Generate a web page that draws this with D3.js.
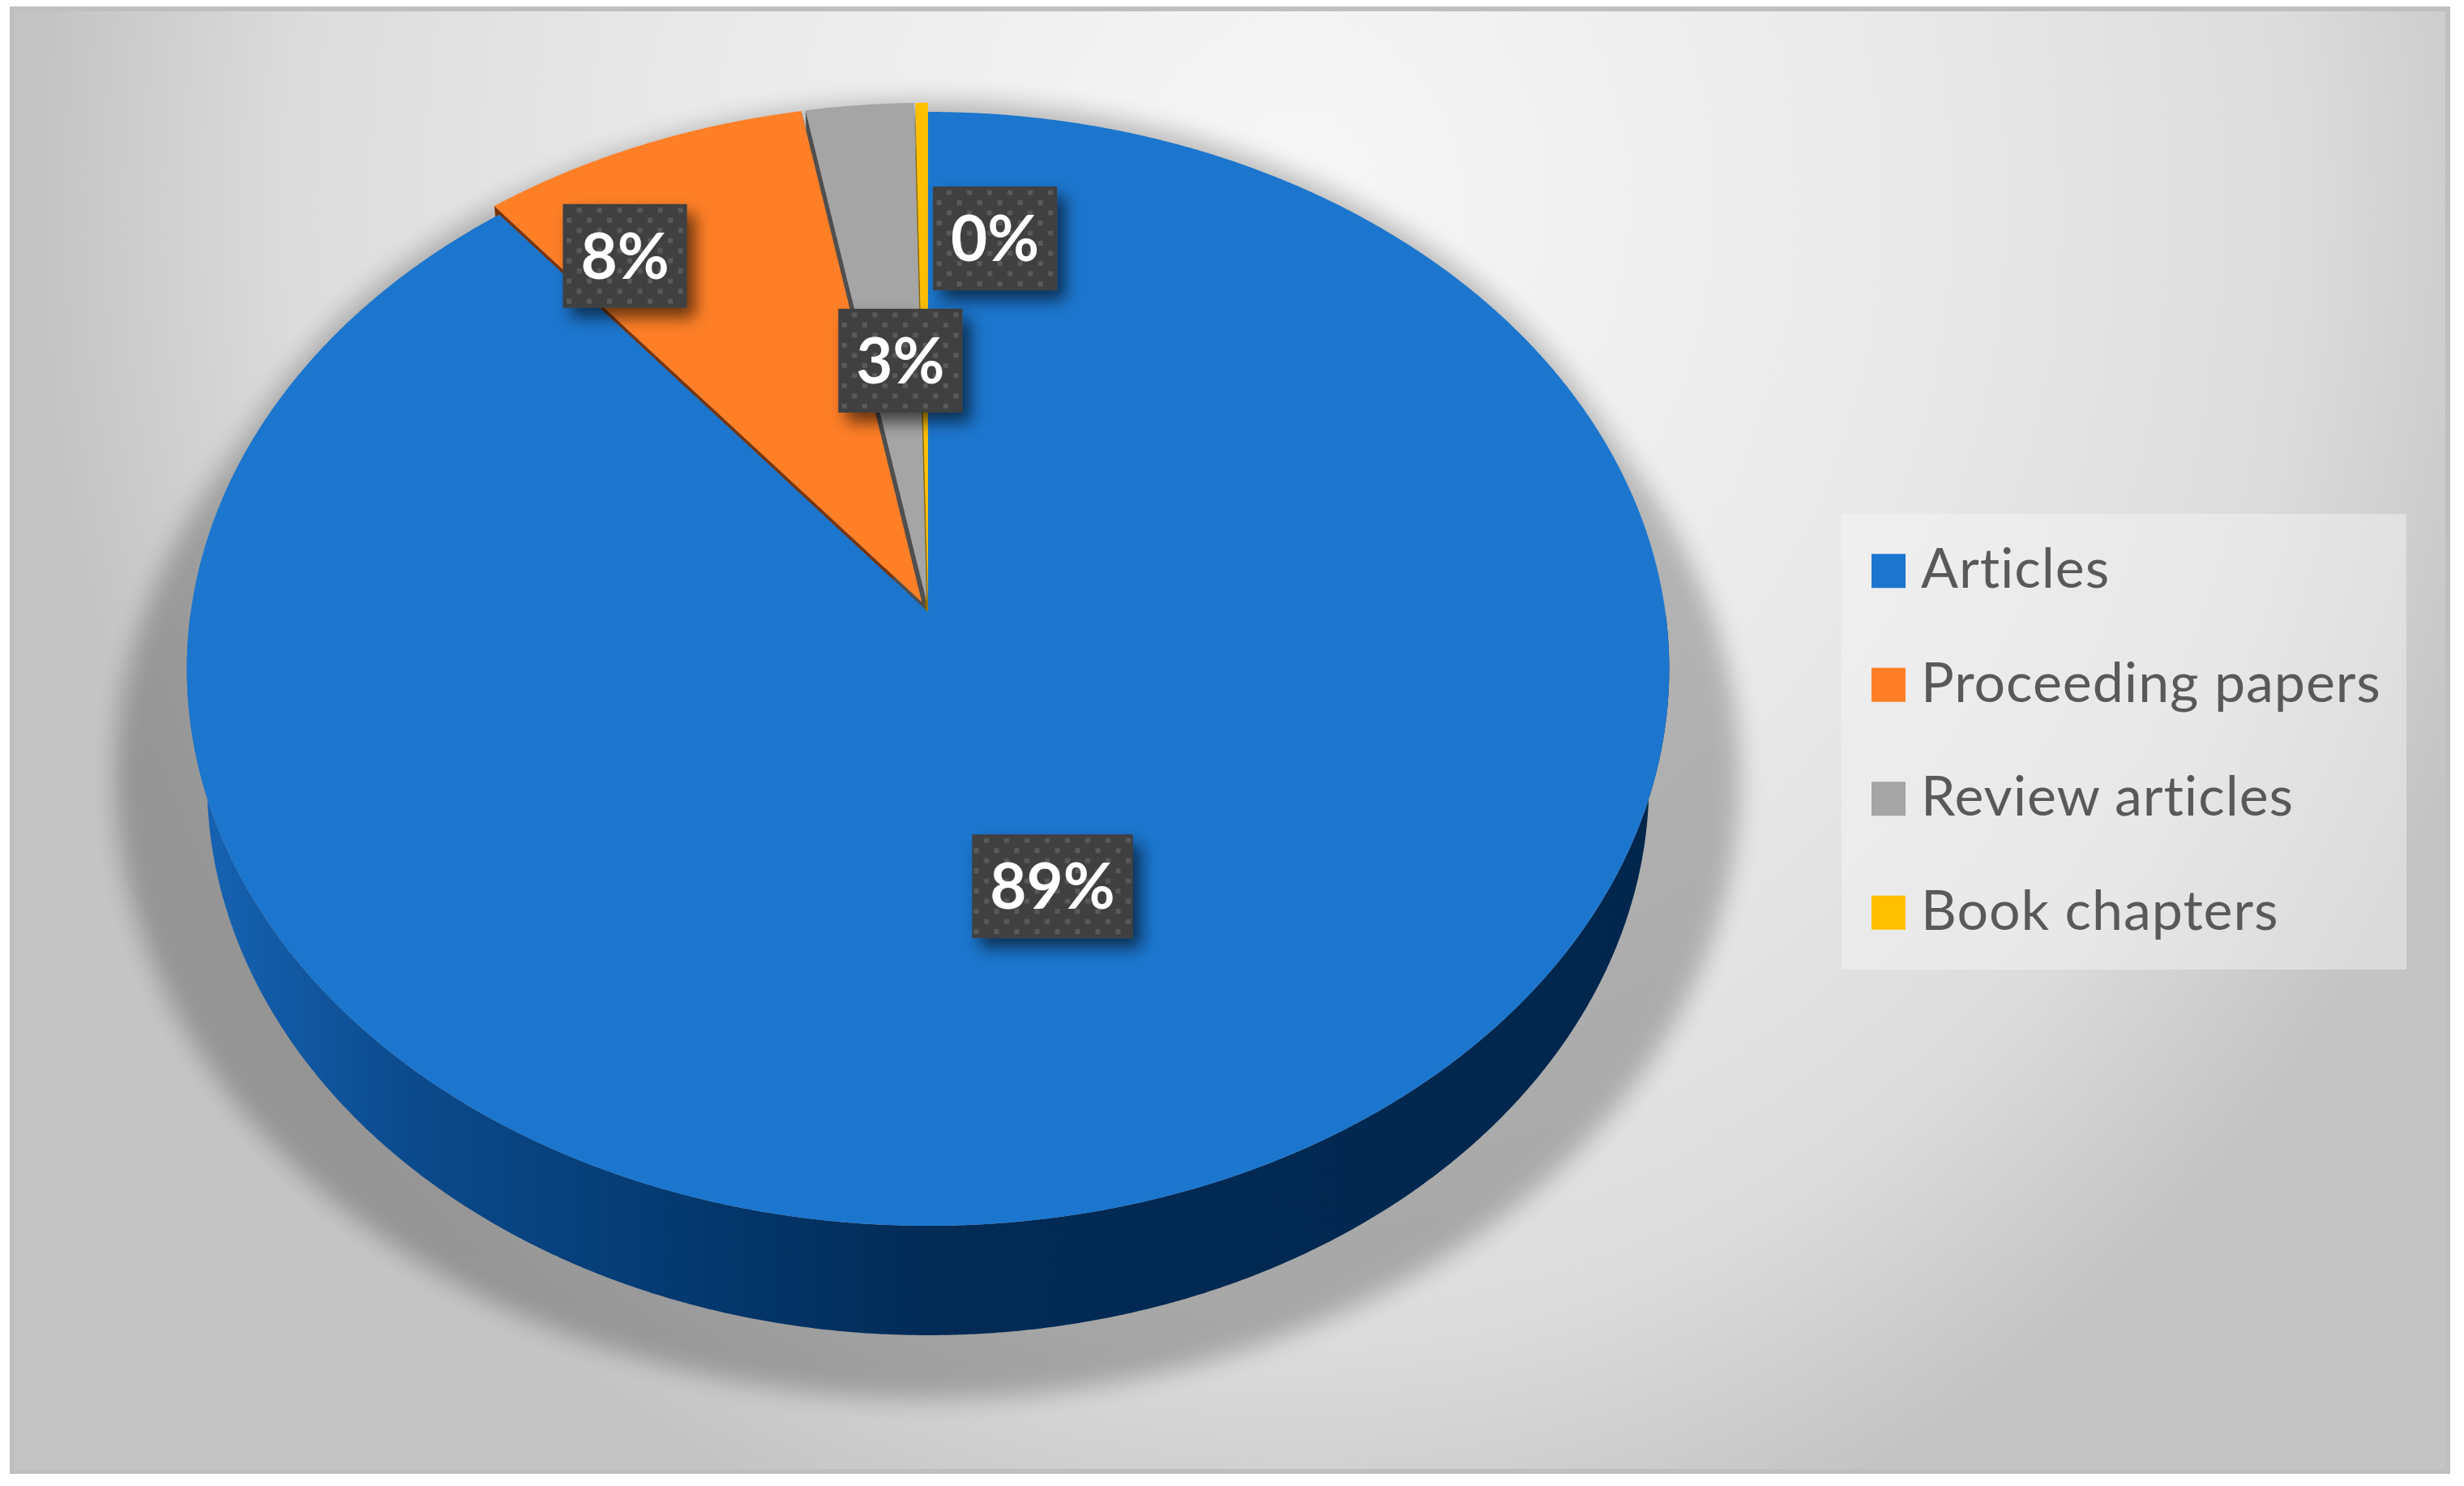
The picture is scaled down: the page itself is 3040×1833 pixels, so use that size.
<!DOCTYPE html>
<html>
<head>
<meta charset="utf-8">
<script src="https://cdn.jsdelivr.net/npm/d3@7"></script>
<style>
  html, body { margin: 0; padding: 0; background: #fff; }
  svg { display: block; }
</style>
</head>
<body>
<script>
// data
const categories = ['Articles', 'Proceeding papers', 'Review articles', 'Book chapters'];
const shares = [89.2, 7.9, 2.6, 0.3];
const colors = ['#1c76ce', '#ff7f27', '#a5a5a5', '#ffc000'];
const wallColors = ['#0b4a8c', '#7a3409', '#4f4f4f', '#8c6a00'];

const W = 3040, H = 1833;
const svg = d3.select('body').append('svg').attr('width', W).attr('height', H);
const defs = svg.append('defs');

// tilted disc of unit radius seen in perspective (fitted to the picture)
const cam = { F: 5931, D: 6.52, s: 0.7474, c: 0.6644, cx: 1145, cy: 755 };
const thick = 0.2414;
const explode = 0.02;

function project(u, v, y) {
  const depth = cam.D + v * cam.c - y * cam.s;
  return [cam.cx + cam.F * u / depth, cam.cy - cam.F * (y * cam.c + v * cam.s) / depth];
}

// background
const bg = defs.append('radialGradient')
  .attr('id', 'bg')
  .attr('gradientUnits', 'userSpaceOnUse')
  .attr('cx', 0).attr('cy', 0).attr('r', 1)
  .attr('gradientTransform', 'translate(1600,250) scale(1550,1750)');
[[0, '#f7f7f7'], [0.5, '#e9e9e9'], [0.8, '#dcdcdc'], [1, '#c4c4c4']].forEach(s => {
  bg.append('stop').attr('offset', s[0]).attr('stop-color', s[1]);
});

svg.append('rect')
  .attr('x', 15).attr('y', 11)
  .attr('width', 3005).attr('height', 1804)
  .attr('fill', 'url(#bg)')
  .attr('stroke', '#bfbfbf')
  .attr('stroke-width', 6);

// side wall shading
const side = defs.append('linearGradient')
  .attr('id', 'side')
  .attr('gradientUnits', 'userSpaceOnUse')
  .attr('x1', 235).attr('x2', 2060).attr('y1', 0).attr('y2', 0);
[[0, '#1764b5'], [0.15, '#0b4a8c'], [0.37, '#03366a'], [0.5, '#022b56'], [1, '#01264c']].forEach(s => {
  side.append('stop').attr('offset', s[0]).attr('stop-color', s[1]);
});

// soft shadow under the pie
defs.append('filter').attr('id', 'blur')
  .attr('x', '-20%').attr('y', '-20%').attr('width', '140%').attr('height', '140%')
  .append('feGaussianBlur').attr('stdDeviation', 15);

const hullPts = [];
d3.range(0, 360, 2).forEach(deg => {
  const a = deg * Math.PI / 180;
  hullPts.push(project(Math.sin(a), Math.cos(a), 0.02));
  hullPts.push(project(1.12 * Math.sin(a), 1.12 * Math.cos(a), -0.2));
});
const closed = d3.line().curve(d3.curveLinearClosed);
svg.append('path')
  .attr('d', closed(d3.polygonHull(hullPts)))
  .attr('fill', '#000')
  .attr('opacity', 0.24)
  .attr('filter', 'url(#blur)');

// slices
const pie = d3.pie().sort(null).startAngle(0).endAngle(2 * Math.PI);
const arcs = pie(shares).map((d, i) => {
  const mid = (d.startAngle + d.endAngle) / 2;
  const e = i === 0 ? 0 : explode;
  return Object.assign({}, d, { i, mid, ox: e * Math.sin(mid), oy: e * Math.cos(mid) });
});

function pt(d, a, r, y) {
  return project(d.ox + r * Math.sin(a), d.oy + r * Math.cos(a), y);
}
function arcPts(d, a0, a1, y) {
  const n = Math.max(2, Math.ceil((a1 - a0) / (Math.PI / 720)));
  return d3.range(n + 1).map(k => pt(d, a0 + (a1 - a0) * k / n, 1, y));
}
function topFace(d) {
  return [pt(d, 0, 0, 0)].concat(arcPts(d, d.startAngle, d.endAngle, 0));
}
function radialWall(d, a) {
  return [pt(d, a, 0, 0), pt(d, a, 1, 0), pt(d, a, 1, -thick), pt(d, a, 0, -thick)];
}
function outerWall(d) {
  const a0 = Math.max(d.startAngle, Math.PI / 2);
  const a1 = Math.min(d.endAngle, 3 * Math.PI / 2);
  if (a1 <= a0) return null;
  return arcPts(d, a0, a1, 0).concat(arcPts(d, a0, a1, -thick).reverse());
}

const small = arcs.filter(d => d.i > 0);
const gPie = svg.append('g');

// back slices: walls first, then tops
small.forEach(d => {
  [d.startAngle, d.endAngle].forEach(a => {
    gPie.append('path')
      .attr('d', closed(radialWall(d, a)))
      .attr('fill', wallColors[d.i]);
  });
});
small.forEach(d => {
  gPie.append('path')
    .attr('d', closed(topFace(d)))
    .attr('fill', colors[d.i]);
});

// big slice
const big = arcs[0];
gPie.append('path')
  .attr('d', closed(outerWall(big)))
  .attr('fill', 'url(#side)');
gPie.append('path')
  .attr('d', closed(topFace(big)))
  .attr('fill', colors[0]);

// data labels
const pat = defs.append('pattern')
  .attr('id', 'dots')
  .attr('patternUnits', 'userSpaceOnUse')
  .attr('width', 25).attr('height', 25);
pat.append('rect').attr('width', 25).attr('height', 25).attr('fill', '#404040');
pat.append('rect').attr('x', 3).attr('y', 3).attr('width', 6).attr('height', 6).attr('fill', '#5a5a5a');
pat.append('rect').attr('x', 15.5).attr('y', 15.5).attr('width', 6).attr('height', 6).attr('fill', '#5a5a5a');

defs.append('filter').attr('id', 'lblShadow')
  .attr('x', '-30%').attr('y', '-30%').attr('width', '170%').attr('height', '170%')
  .append('feDropShadow')
  .attr('dx', 10).attr('dy', 12)
  .attr('stdDeviation', 10)
  .attr('flood-color', '#000')
  .attr('flood-opacity', 0.6);

// where each label sits on its slice: angle shift (deg) from the middle, radius
const labelSpot = [{ da: 0.7, r: 0.5 }, { da: -8.0, r: 0.80 }, { da: 1.1, r: 0.46 }, { da: 8.4, r: 0.715 }];
const pct = d3.format('.0%');
const total = d3.sum(shares);

arcs.forEach(d => {
  const spot = labelSpot[d.i];
  const [lx, ly] = pt(d, d.mid + spot.da * Math.PI / 180, spot.r, 0);
  const g = svg.append('g').attr('transform', `translate(${lx},${ly})`);
  const box = g.append('rect').attr('fill', 'url(#dots)').attr('filter', 'url(#lblShadow)');
  const t = g.append('text')
    .attr('text-anchor', 'middle')
    .attr('y', 28)
    .attr('font-family', 'Lato, "Open Sans", sans-serif')
    .attr('font-weight', 700)
    .attr('font-size', 78)
    .attr('fill', '#fff')
    .text(pct(d.data / total));
  const w = t.node().getComputedTextLength() + 44;
  box.attr('x', -w / 2).attr('y', -64).attr('width', w).attr('height', 128);
});

// legend
svg.append('rect')
  .attr('x', 2272).attr('y', 634)
  .attr('width', 697).attr('height', 562)
  .attr('fill', '#f6f6f6')
  .attr('opacity', 0.45);

const ly = d3.scaleBand().domain(categories).range([634, 1196]);
const items = svg.append('g').selectAll('g')
  .data(categories)
  .join('g')
  .attr('transform', d => `translate(2309,${ly(d) + ly.bandwidth() / 2})`);
items.append('rect')
  .attr('x', 0).attr('y', -21)
  .attr('width', 42).attr('height', 42)
  .attr('fill', (d, i) => colors[i]);
items.append('text')
  .attr('x', 61).attr('y', 21)
  .attr('font-family', 'Lato, "Open Sans", sans-serif')
  .attr('font-size', 68)
  .attr('letter-spacing', 1)
  .attr('fill', '#595959')
  .text(d => d);
</script>
</body>
</html>
